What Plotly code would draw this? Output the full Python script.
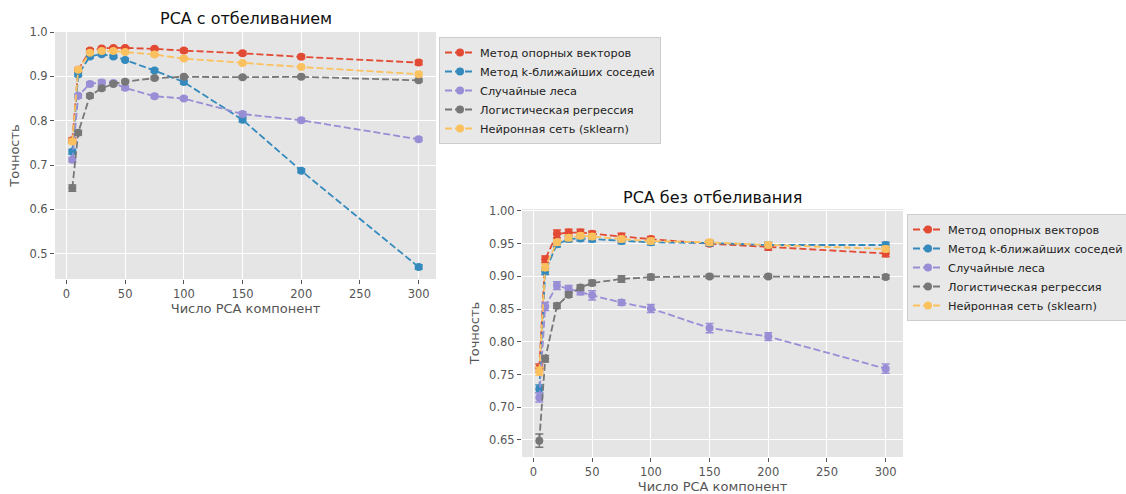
import plotly.graph_objects as go

n_components = [5, 10, 20, 30, 40, 50, 75, 100, 150, 200, 300]

series_names = [
    "Метод опорных векторов",
    "Метод k-ближайших соседей",
    "Случайные леса",
    "Логистическая регрессия",
    "Нейронная сеть (sklearn)",
]
colors = ["#E24A33", "#348ABD", "#988ED5", "#777777", "#FBC15E"]

# --- PCA с отбеливанием (whiten=True) ---
w_svm = [0.756, 0.915, 0.958, 0.963, 0.964, 0.964, 0.962, 0.958, 0.952, 0.944, 0.931]
w_knn = [0.730, 0.904, 0.945, 0.950, 0.945, 0.937, 0.913, 0.887, 0.802, 0.687, 0.470]
w_rf = [0.712, 0.856, 0.883, 0.886, 0.885, 0.874, 0.855, 0.850, 0.815, 0.801, 0.758]
w_lr = [0.648, 0.773, 0.856, 0.873, 0.883, 0.888, 0.896, 0.899, 0.898, 0.899, 0.891]
w_nn = [0.753, 0.915, 0.953, 0.957, 0.957, 0.955, 0.949, 0.940, 0.930, 0.921, 0.905]

w_svm_err = [0.005, 0.004, 0.004, 0.003, 0.003, 0.003, 0.003, 0.004, 0.004, 0.004, 0.005]
w_knn_err = [0.005, 0.004, 0.004, 0.003, 0.003, 0.003, 0.004, 0.004, 0.005, 0.004, 0.005]
w_rf_err = [0.005, 0.005, 0.004, 0.005, 0.004, 0.004, 0.004, 0.004, 0.005, 0.004, 0.004]
w_lr_err = [0.007, 0.005, 0.004, 0.004, 0.003, 0.003, 0.003, 0.003, 0.003, 0.003, 0.003]
w_nn_err = [0.005, 0.004, 0.003, 0.003, 0.003, 0.003, 0.003, 0.003, 0.003, 0.003, 0.004]

# --- PCA без отбеливания (whiten=False) ---
n_svm = [0.760, 0.926, 0.965, 0.967, 0.967, 0.965, 0.961, 0.957, 0.950, 0.945, 0.935]
n_knn = [0.728, 0.908, 0.949, 0.957, 0.958, 0.957, 0.954, 0.952, 0.951, 0.948, 0.948]
n_rf = [0.715, 0.854, 0.886, 0.881, 0.877, 0.871, 0.860, 0.851, 0.821, 0.808, 0.759]
n_lr = [0.649, 0.774, 0.855, 0.872, 0.883, 0.890, 0.896, 0.899, 0.900, 0.900, 0.899]
n_nn = [0.755, 0.914, 0.952, 0.959, 0.962, 0.961, 0.957, 0.954, 0.952, 0.948, 0.942]

n_svm_err = [0.006, 0.005, 0.006, 0.005, 0.005, 0.004, 0.005, 0.004, 0.004, 0.005, 0.005]
n_knn_err = [0.006, 0.005, 0.004, 0.004, 0.004, 0.004, 0.004, 0.004, 0.004, 0.004, 0.004]
n_rf_err = [0.007, 0.006, 0.006, 0.005, 0.005, 0.007, 0.004, 0.006, 0.007, 0.006, 0.007]
n_lr_err = [0.010, 0.005, 0.004, 0.004, 0.004, 0.004, 0.005, 0.004, 0.003, 0.003, 0.003]
n_nn_err = [0.006, 0.005, 0.004, 0.004, 0.004, 0.004, 0.004, 0.004, 0.004, 0.004, 0.004]

title_left = "PCA с отбеливанием"
title_right = "PCA без отбеливания"
x_title = "Число PCA компонент"
y_title = "Точность"

W, H = 1126, 494
FONT = "DejaVu Sans, Liberation Sans, sans-serif"

fig = go.Figure()

whiten_sets = [
    (w_svm, w_svm_err), (w_knn, w_knn_err), (w_rf, w_rf_err),
    (w_lr, w_lr_err), (w_nn, w_nn_err),
]
nowhite_sets = [
    (n_svm, n_svm_err), (n_knn, n_knn_err), (n_rf, n_rf_err),
    (n_lr, n_lr_err), (n_nn, n_nn_err),
]

DASH = "7px,3px"

for (vals, errs), name, col in zip(whiten_sets, series_names, colors):
    fig.add_trace(go.Scatter(
        x=n_components, y=vals, name=name, mode="lines+markers",
        line=dict(color=col, width=1.8, dash=DASH),
        marker=dict(color=col, size=8),
        error_y=dict(type="data", array=errs, color=col, thickness=1.5, width=4),
        xaxis="x", yaxis="y", legend="legend",
    ))

for (vals, errs), name, col in zip(nowhite_sets, series_names, colors):
    fig.add_trace(go.Scatter(
        x=n_components, y=vals, name=name, mode="lines+markers",
        line=dict(color=col, width=1.8, dash=DASH),
        marker=dict(color=col, size=8),
        error_y=dict(type="data", array=errs, color=col, thickness=1.5, width=4),
        xaxis="x2", yaxis="y2", legend="legend2",
    ))

def px_x(p):
    return p / W

def px_y(p):
    return 1 - p / H

axis_common = dict(
    showgrid=True, gridcolor="white", gridwidth=1, zeroline=False,
    showline=False, ticks="outside", ticklen=4, tickcolor="#555555",
    tickfont=dict(family=FONT, size=11.5, color="#555555"),
    title_font=dict(family=FONT, size=13, color="#555555"),
    automargin=False,
)

xr = [-9.75, 314.75]
xt = [0, 50, 100, 150, 200, 250, 300]

legend_common = dict(
    bgcolor="#E8E8E8", bordercolor="#CCCCCC", borderwidth=1,
    font=dict(family=FONT, size=11.3, color="#222222"),
    xanchor="left", yanchor="top", itemwidth=30,
)

fig.update_layout(
    width=W, height=H,
    margin=dict(l=0, r=0, t=0, b=0, autoexpand=False),
    paper_bgcolor="white", plot_bgcolor="#E5E5E5",
    font=dict(family=FONT),
    xaxis=dict(domain=[px_x(55), px_x(436)], range=xr, tickvals=xt,
               anchor="y", title=dict(text=x_title, standoff=4), **axis_common),
    yaxis=dict(domain=[px_y(279), px_y(32)], range=[0.443, 1.0],
               tickvals=[0.5, 0.6, 0.7, 0.8, 0.9, 1.0], tickformat=".1f",
               anchor="x", title=dict(text=y_title, standoff=6), **axis_common),
    xaxis2=dict(domain=[px_x(522), px_x(903)], range=xr, tickvals=xt,
                anchor="y2", title=dict(text=x_title, standoff=4), **axis_common),
    yaxis2=dict(domain=[px_y(457), px_y(209)], range=[0.624, 1.003],
                tickvals=[0.65, 0.70, 0.75, 0.80, 0.85, 0.90, 0.95, 1.00],
                tickformat=".2f", anchor="x2",
                title=dict(text=y_title, standoff=6), **axis_common),
    legend=dict(x=px_x(439), y=px_y(37), **legend_common),
    legend2=dict(x=px_x(907), y=px_y(214), **legend_common),
    annotations=[
        dict(text=title_left, x=(px_x(55) + px_x(436)) / 2, y=px_y(19),
             xref="paper", yref="paper", showarrow=False,
             xanchor="center", yanchor="middle",
             font=dict(family=FONT, size=16, color="#111111")),
        dict(text=title_right, x=(px_x(522) + px_x(903)) / 2, y=px_y(197),
             xref="paper", yref="paper", showarrow=False,
             xanchor="center", yanchor="middle",
             font=dict(family=FONT, size=16, color="#111111")),
    ],
)

fig.write_html(
    "out.html",
    config={"displayModeBar": False},
    post_script="document.body.style.margin='0';document.body.style.overflow='hidden';",
)
